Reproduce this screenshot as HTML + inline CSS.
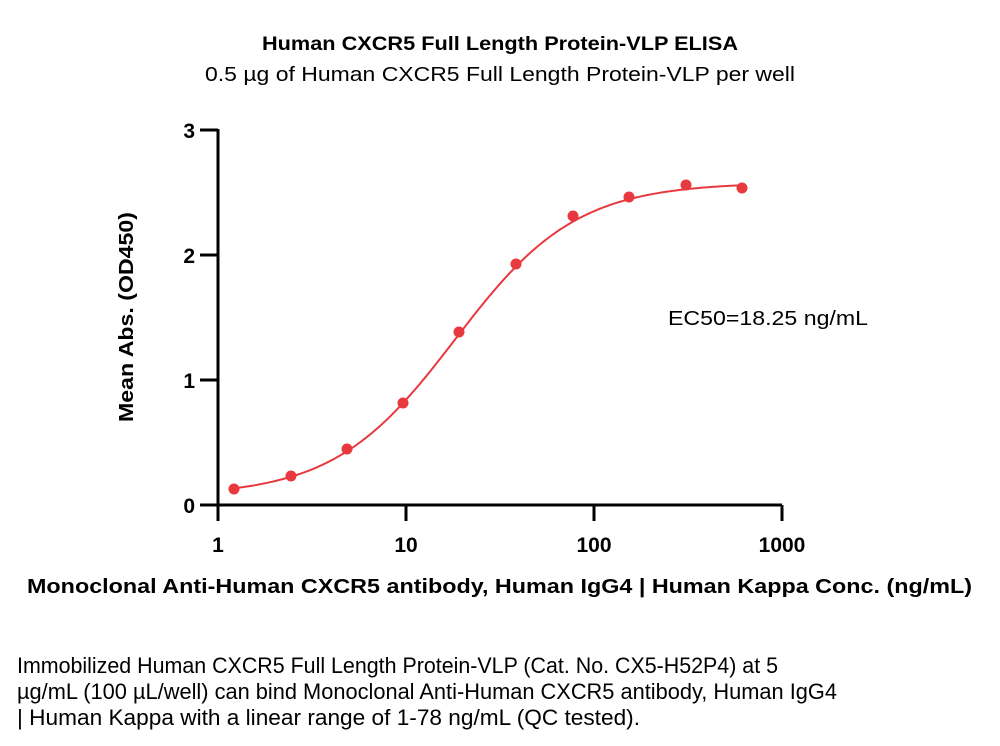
<!DOCTYPE html>
<html><head><meta charset="utf-8"><style>
body{margin:0;background:#fff;width:1000px;height:741px;overflow:hidden;font-family:"Liberation Sans",sans-serif}
</style></head><body>
<svg width="1000" height="741" xmlns="http://www.w3.org/2000/svg" font-family="Liberation Sans, sans-serif">
<text x="262" y="50" font-size="19" font-weight="bold" textLength="476" lengthAdjust="spacingAndGlyphs">Human CXCR5 Full Length Protein-VLP ELISA</text>
<text x="205" y="81" font-size="20" textLength="590" lengthAdjust="spacingAndGlyphs">0.5 µg of Human CXCR5 Full Length Protein-VLP per well</text>
<g stroke="#000" stroke-width="3" fill="none">
<path d="M218,129 V505 H782"/>
<path d="M200,130 H218 M200,255 H218 M200,380 H218 M200,505 H218"/>
<path d="M218,505 V521 M406,505 V521 M594,505 V521 M782,505 V521"/>
</g>
<g font-size="21" font-weight="bold" text-anchor="end">
<text x="195" y="138">3</text><text x="195" y="263">2</text><text x="195" y="388">1</text><text x="195" y="513">0</text>
</g>
<g font-size="21" font-weight="bold" text-anchor="middle">
<text x="218" y="552">1</text><text x="406" y="552">10</text><text x="594" y="552">100</text><text x="782" y="552">1000</text>
</g>
<text transform="translate(133,422) rotate(-90)" font-size="20" font-weight="bold" textLength="210" lengthAdjust="spacingAndGlyphs">Mean Abs. (OD450)</text>
<text x="27" y="593" font-size="20" font-weight="bold" textLength="945" lengthAdjust="spacingAndGlyphs">Monoclonal Anti-Human CXCR5 antibody, Human IgG4 | Human Kappa Conc. (ng/mL)</text>
<text x="668" y="325" font-size="20" textLength="200" lengthAdjust="spacingAndGlyphs">EC50=18.25 ng/mL</text>
<path id="curve" fill="none" stroke="#e8393f" stroke-width="2"/>
<g fill="#e8393f" id="pts"></g>
<g font-size="22">
<text x="17" y="673" textLength="761" lengthAdjust="spacingAndGlyphs">Immobilized Human CXCR5 Full Length Protein-VLP (Cat. No. CX5-H52P4) at 5</text>
<text x="17" y="699" textLength="820" lengthAdjust="spacingAndGlyphs">µg/mL (100 µL/well) can bind Monoclonal Anti-Human CXCR5 antibody, Human IgG4</text>
<text x="17" y="725" textLength="623" lengthAdjust="spacingAndGlyphs">| Human Kappa with a linear range of 1-78 ng/mL (QC tested).</text>
</g>
</svg>
<script>
function X(c){return 218+Math.log10(c)*188;}
function Y(v){return 505-v*125;}
function f(c){var b=0.07,t=2.58,e=18.25,h=1.35;return b+(t-b)/(1+Math.pow(e/c,h));}
var d="";for(var i=0;i<=200;i++){var lc=Math.log10(1.22)+i*(Math.log10(625)-Math.log10(1.22))/200;var c=Math.pow(10,lc);d+=(i?"L":"M")+X(c).toFixed(1)+","+Y(f(c)).toFixed(1);}
document.getElementById("curve").setAttribute("d",d);
var P=[[234,489],[291,476],[347,449],[403,403],[459,332],[516,264],[573,216],[629,197],[686,185],[742,188]];
var g=document.getElementById("pts"),s="";P.forEach(function(p){s+='<circle cx="'+p[0]+'" cy="'+p[1]+'" r="5.5"/>';});g.innerHTML=s;
</script>
</body></html>
